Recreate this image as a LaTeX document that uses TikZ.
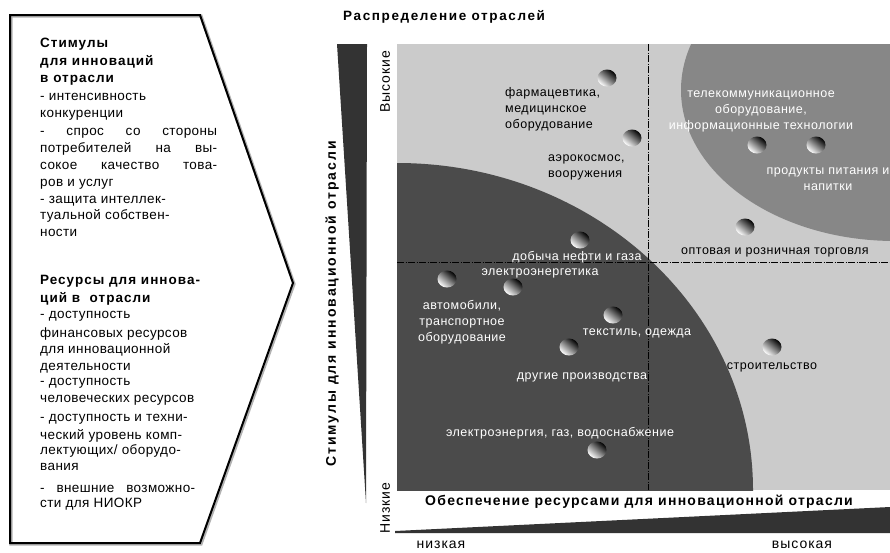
\documentclass[tikz,border=0pt]{standalone}
\usepackage{fontspec}
\setmainfont{Liberation Sans}
\newfontfamily\leftreg[LetterSpace=3]{Liberation Sans}
\newfontfamily\leftbold[LetterSpace=7.5]{Liberation Sans Bold}
\newfontfamily\plotreg[LetterSpace=4]{Liberation Sans}
\newfontfamily\tickreg[LetterSpace=7]{Liberation Sans}
\newfontfamily\titlebold[LetterSpace=12]{Liberation Sans Bold}
\newfontfamily\xbold[LetterSpace=9]{Liberation Sans Bold}
\newfontfamily\ybold[LetterSpace=14]{Liberation Sans Bold}
\usetikzlibrary{shapes.geometric}
\definecolor{lightbg}{HTML}{CBCBCB}
\definecolor{darkbg}{HTML}{4B4B4B}
\definecolor{midbg}{HTML}{878787}
\definecolor{wedge}{HTML}{333333}
\begin{document}
\begin{tikzpicture}[x=1pt,y=-1pt,
  lt/.style={anchor=base west,inner sep=0pt,font=\leftreg\fontsize{13.5}{17}\selectfont},
  bt/.style={anchor=base west,inner sep=0pt,font=\leftbold\fontsize{13.5}{17}\selectfont},
  pl/.style={inner sep=0pt,align=center,font=\plotreg\fontsize{12.5}{16}\selectfont},
  wl/.style={pl,text=white},
  kl/.style={pl,text=black},
  ball/.style={ellipse,minimum width=19pt,minimum height=17pt,inner sep=0pt,
     shading=axis,top color=black,middle color=gray!60!black,bottom color=white,shading angle=-40},
  ddash/.style={line width=0.9pt,dash pattern=on 7pt off 1.5pt on 1pt off 1.5pt},
  tick/.style={inner sep=0pt,font=\tickreg\fontsize{14}{16}\selectfont}]
\useasboundingbox (0,0) rectangle (890,552);

% left arrow box
\draw[line width=3.2pt,gray!60] (11,16) -- (201,16) -- (294,284) -- (201,544) -- (11,544) -- cycle;
\draw[line width=2pt,line join=miter] (10,15) -- (200,15) -- (293,283) -- (200,543) -- (10,543) -- cycle;

% left texts
\node[bt] (s1) at (40,47) {Стимулы};
\node[bt] (s2) at (40,65) {для инноваций};
\node[bt] (s3) at (40,82) {в отрасли};
\node[lt] (s4) at (40,100) {- интенсивность};
\node[lt] (s5) at (40,117) {конкуренции};
\node[lt] (s6) at (40,135) {\makebox[177pt][s]{- спрос со стороны}};
\node[lt] (s7) at (40,152) {\makebox[177pt][s]{потребителей на вы-}};
\node[lt] (s8) at (40,169) {\makebox[177pt][s]{сокое качество това-}};
\node[lt] (s9) at (40,186) {ров и услуг};
\node[lt] (s10) at (40,203) {- защита интеллек-};
\node[lt] (s11) at (40,219) {туальной собствен-};
\node[lt] (s12) at (40,236) {ности};

\node[bt] (r1) at (40,284) {Ресурсы для иннова-};
\node[bt] (r2) at (40,302) {ций в \ отрасли};
\node[lt] (r3) at (40,318) {- доступность};
\node[lt] (r4) at (40,337) {финансовых ресурсов};
\node[lt] (r5) at (40,353) {для инновационной};
\node[lt] (r6) at (40,370) {деятельности};
\node[lt] (r7) at (40,385) {- доступность};
\node[lt] (r8) at (40,402) {человеческих ресурсов};
\node[lt] (r9) at (40,421) {- доступность и техни-};
\node[lt] (r10) at (40,439) {ческий уровень комп-};
\node[lt] (r11) at (40,454) {лектующих/ оборудо-};
\node[lt] (r12) at (40,470) {вания};
\node[lt] (r13) at (40,492) {\makebox[155pt][s]{- внешние возможно-}};
\node[lt] (r14) at (40,507) {сти для НИОКР};

% plot background
\fill[lightbg] (397,44) rectangle (890,490);
\begin{scope}
\clip (397,44) rectangle (890,490);
\fill[darkbg] (397,490) ellipse [x radius=356pt, y radius=327pt];
\fill[midbg] (895,90) ellipse [x radius=214pt, y radius=151pt];
\end{scope}

% dashed axes
\coordinate (vt) at (648,44);
\coordinate (vb) at (648,490);
\coordinate (hl) at (397,262);
\coordinate (hr) at (890,262);
\draw[ddash] (vt) -- (vb);
\draw[ddash] (hl) -- (hr);

% axis wedges
\fill[wedge] (337,44) -- (367,44) -- (366,503) -- cycle;
\fill[wedge] (395,531) -- (890,507) -- (890,533) -- (395,533) -- cycle;

% titles
\node[inner sep=0pt,anchor=base west,font=\titlebold\fontsize{13.5}{15}\selectfont] (title) at (343,20) {Распределение отраслей};
\node[inner sep=0pt,anchor=base west,font=\xbold\fontsize{14}{15}\selectfont] (xlab) at (425,505) {Обеспечение ресурсами для инновационной отрасли};
\node[inner sep=0pt,rotate=90,font=\ybold\fontsize{14}{15}\selectfont] (ylab) at (332,304) {Стимулы для инновационной отрасли};
\node[tick,rotate=90] (hi) at (385,82) {Высокие};
\node[tick,rotate=90] (lo) at (385,508) {Низкие};
\node[tick] (low) at (441,545) {низкая};
\node[tick] (high) at (802,545) {высокая};

% balls
\node[ball] (b1) at (607,78) {};
\node[ball] (b2) at (632,138) {};
\node[ball] (b3) at (580,240) {};
\node[ball] (b4) at (757,145) {};
\node[ball] (b5) at (816,145) {};
\node[ball] (b6) at (745,227) {};
\node[ball] (b7) at (447,279) {};
\node[ball] (b8) at (513,287) {};
\node[ball] (b9) at (613,315) {};
\node[ball] (b10) at (569,347) {};
\node[ball] (b11) at (772,347) {};
\node[ball] (b12) at (597,450) {};

% labels
\node[kl,align=left,anchor=north west] (t1) at (505,87) {фармацевтика,\\медицинское\\оборудование};
\node[kl,align=left,anchor=north west] (t2) at (548,155) {аэрокосмос,\\вооружения};
\node[wl] (t3) at (577,257) {добыча нефти и газа};
\node[wl] (t4) at (540,273) {электроэнергетика};
\node[wl] (t5) at (761,111) {телекоммуникационное\\оборудование,\\информационные технологии};
\node[wl] (t6) at (828,179) {продукты питания и\\напитки};
\node[kl] (t7) at (775,252) {оптовая и розничная торговля};
\node[wl] (t8) at (462,322) {автомобили,\\транспортное\\оборудование};
\node[wl] (t9) at (637,333) {текстиль, одежда};
\node[wl] (t10) at (582,377) {другие производства};
\node[wl] (t11) at (560,433) {электроэнергия, газ, водоснабжение};
\node[kl] (t12) at (772,367) {строительство};
\end{tikzpicture}
\end{document}
